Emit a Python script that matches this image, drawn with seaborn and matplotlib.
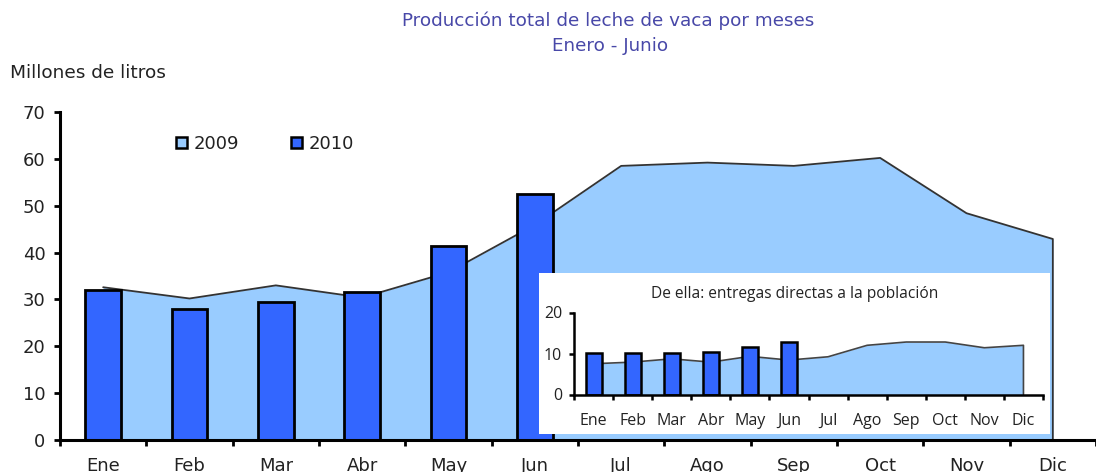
import matplotlib
matplotlib.use("Agg")
import matplotlib.pyplot as plt
import seaborn as sns
import pandas as pd
import numpy as np
from matplotlib.patches import Patch

# ---------------- data ----------------
meses = ["Ene", "Feb", "Mar", "Abr", "May", "Jun", "Jul", "Ago", "Sep", "Oct", "Nov", "Dic"]
prod_2009 = [32.6, 30.2, 33.0, 30.4, 35.8, 45.9, 58.5, 59.2, 58.5, 60.2, 48.4, 42.9]
prod_2010 = [32.1, 27.9, 29.4, 31.6, 41.4, 52.4]
entregas_2009 = [7.5, 7.9, 8.7, 7.9, 9.3, 8.4, 9.2, 12.0, 12.8, 12.8, 11.4, 12.0]
entregas_2010 = [10.1, 10.1, 10.1, 10.4, 11.5, 12.9]
yticks_main = [0, 10, 20, 30, 40, 50, 60, 70]
yticks_inset = [0, 10, 20]

titulo = "Producción total de leche de vaca por meses"
subtitulo = "Enero - Junio"
ylabel = "Millones de litros"
titulo_inset = "De ella: entregas directas a la población"

LIGHT = "#99CCFF"
DARK = "#3366FF"
TITLE_C = "#4848A8"
TXT = "#222222"

sns.set_theme(style="white")
plt.rcParams["font.family"] = ["DejaVu Sans"]

W, H = 1096, 472
fig = plt.figure(figsize=(W / 100, H / 100), dpi=100)

def fx(px):
    return px / W

def fy(py):
    return 1 - py / H

# ---------------- main axes ----------------
left_px, right_px = 60, 1096
top_px, bot_px = 112, 440
cat_w = 87.4
ax = fig.add_axes([fx(left_px), fy(bot_px), fx(right_px - left_px), (bot_px - top_px) / H])
ax.set_facecolor("none")

x = np.arange(len(meses))
ax.fill_between(x, prod_2009, 0, color=LIGHT, zorder=1, linewidth=0)
ax.plot(list(x) + [x[-1]], prod_2009 + [0], color="#333333", lw=1.3, zorder=2)

df10 = pd.DataFrame({"mes": meses[:len(prod_2010)], "valor": prod_2010})
sns.barplot(data=df10, x="mes", y="valor", order=meses, color=DARK, width=0.41,
            edgecolor="black", linewidth=2, errorbar=None, saturation=1, zorder=3, ax=ax)

ax.set_xlim(-0.5, -0.5 + (right_px - left_px) / cat_w)
ax.set_ylim(0, 70)
ax.set_yticks(yticks_main)
ax.set_xticks(x)
ax.set_xticklabels(meses)
ax.set_xticks(np.arange(-0.5, 12, 1), minor=True)
ax.set_xlabel("")
ax.set_ylabel("")
for s in ["top", "right"]:
    ax.spines[s].set_visible(False)
for s in ["left", "bottom"]:
    ax.spines[s].set_color("black")
    ax.spines[s].set_linewidth(2.2)
    ax.spines[s].set_zorder(5)
ax.tick_params(axis="y", direction="out", length=4.5, width=2, color="black",
               labelsize=13, labelcolor=TXT, pad=6, left=True)
ax.tick_params(axis="x", which="major", length=0, labelsize=13, labelcolor=TXT, pad=12)
ax.tick_params(axis="x", which="minor", direction="out", length=4.5, width=2, color="black", bottom=True)
ax.grid(False)

# legend
handles = [Patch(facecolor=LIGHT, edgecolor="black", linewidth=1.8, label="2009"),
           Patch(facecolor=DARK, edgecolor="black", linewidth=1.8, label="2010")]
fig.legend(handles=handles, loc="center left", bbox_to_anchor=(fx(176), fy(144)),
           ncol=2, frameon=False, fontsize=13, handlelength=0.6, handleheight=0.6,
           handletextpad=0.35, columnspacing=2.9, borderpad=0, borderaxespad=0,
           labelcolor=TXT)

# titles
fig.text(fx(608), fy(21), titulo, ha="center", va="center", fontsize=13.2, color=TITLE_C)
fig.text(fx(610), fy(46), subtitulo, ha="center", va="center", fontsize=13.2, color=TITLE_C)
fig.text(fx(10), fy(73), ylabel, ha="left", va="center", fontsize=13.3, color=TXT)

# ---------------- inset ----------------
bg = fig.add_axes([fx(539), fy(434), fx(1050 - 539), (434 - 273) / H])
bg.set_facecolor("white")
bg.set_xticks([])
bg.set_yticks([])
for s in bg.spines.values():
    s.set_visible(False)
bg.set_zorder(10)

ins_l, ins_r, ins_t, ins_b = 574, 1043, 312.5, 394.5
axi = fig.add_axes([fx(ins_l), fy(ins_b), fx(ins_r - ins_l), (ins_b - ins_t) / H])
axi.set_zorder(11)
axi.set_facecolor("none")
axi.fill_between(x, entregas_2009, 0, color=LIGHT, zorder=1, linewidth=0)
axi.plot(list(x) + [x[-1]], entregas_2009 + [0], color="#444444", lw=1.2, zorder=2)
dfi = pd.DataFrame({"mes": meses[:len(entregas_2010)], "valor": entregas_2010})
sns.barplot(data=dfi, x="mes", y="valor", order=meses, color=DARK, width=0.41,
            edgecolor="black", linewidth=1.8, errorbar=None, saturation=1, zorder=3, ax=axi)
axi.set_xlim(-0.5, 11.5)
axi.set_ylim(0, 20)
axi.set_yticks(yticks_inset)
axi.set_xticks(x)
axi.set_xticklabels(meses)
axi.set_xticks(np.arange(-0.5, 12, 1), minor=True)
axi.set_xlabel("")
axi.set_ylabel("")
for s in ["top", "right"]:
    axi.spines[s].set_visible(False)
for s in ["left", "bottom"]:
    axi.spines[s].set_color("black")
    axi.spines[s].set_linewidth(1.8)
    axi.spines[s].set_zorder(5)
ifont = "Open Sans"
axi.tick_params(axis="y", direction="out", length=3.5, width=1.8, color="black",
                labelsize=11.5, labelcolor=TXT, pad=5, left=True)
axi.tick_params(axis="x", which="major", length=0, labelsize=11.5, labelcolor=TXT, pad=13)
axi.tick_params(axis="x", which="minor", direction="out", length=3.5, width=1.8, color="black", bottom=True)
for lab in axi.get_xticklabels() + axi.get_yticklabels():
    lab.set_family(ifont)
axi.grid(False)
fig.text(fx(795), fy(294), titulo_inset, ha="center", va="center", fontsize=11.2,
         color=TXT, family=ifont, zorder=12)

fig.savefig("out.png", dpi=100)
